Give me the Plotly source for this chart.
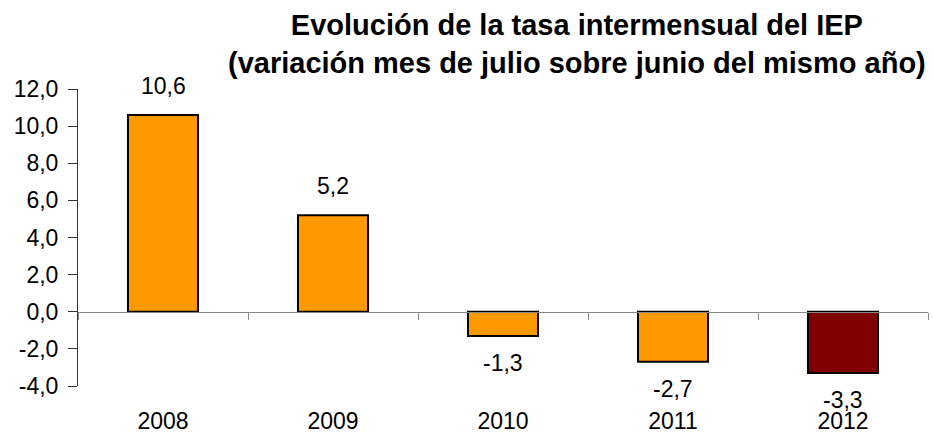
import plotly.graph_objects as go

years = ["2008", "2009", "2010", "2011", "2012"]
values = [10.6, 5.2, -1.3, -2.7, -3.3]
bar_colors = ["#FF9900", "#FF9900", "#FF9900", "#FF9900", "#800000"]
y_ticks = [-4, -2, 0, 2, 4, 6, 8, 10, 12]
y_min, y_max = -4, 12

FONT = "Liberation Sans, Arial, sans-serif"
FS = 23


def fmt(v):
    return f"{v:.1f}".replace(".", ",")


fig = go.Figure()
fig.add_trace(go.Bar(
    x=years, y=values,
    marker=dict(color=bar_colors, line=dict(color="black", width=2)),
    hoverinfo="skip", showlegend=False,
))
# helper trace so the zero-line category axis exists
fig.add_trace(go.Scatter(x=years, y=[None] * len(years), xaxis="x2",
                         mode="lines", showlegend=False, hoverinfo="skip"))

for i, v in enumerate(values):
    fig.add_annotation(
        x=i, y=v, xref="x", yref="y", text=fmt(v), showarrow=False,
        yanchor="bottom" if v >= 0 else "top",
        yshift=14 if v >= 0 else -12,
        font=dict(family=FONT, size=FS, color="black"),
    )

fig.add_annotation(
    text="<b>Evolución de la tasa intermensual del IEP<br>(variación mes de julio sobre junio del mismo año)</b>",
    xref="paper", yref="paper", x=(577 - 78) / 850, y=1 + (89 - 7) / 297,
    xanchor="center", yanchor="top", showarrow=False,
    font=dict(family=FONT, size=29, color="black"),
)

zero_pos = (0 - y_min) / (y_max - y_min)
cat_range = [-0.5, len(years) - 0.5]

fig.update_layout(
    width=933, height=432,
    margin=dict(l=78, r=5, t=89, b=46),
    paper_bgcolor="white", plot_bgcolor="white",
    bargap=0.588,
    font=dict(family=FONT, size=FS, color="black"),
    xaxis=dict(
        type="category", categoryorder="array", categoryarray=years,
        range=cat_range, automargin=False,
        showline=False, showgrid=False, zeroline=False,
        ticks="", ticklabelstandoff=19,
        tickfont=dict(family=FONT, size=FS, color="black"),
    ),
    xaxis2=dict(
        type="category", categoryorder="array", categoryarray=years,
        range=cat_range, automargin=False,
        overlaying="x", anchor="free", position=zero_pos,
        showline=True, linecolor="#888888", linewidth=1,
        ticks="outside", tickson="boundaries", ticklen=7, tickcolor="#888888",
        showticklabels=False, showgrid=False, zeroline=False,
    ),
    yaxis=dict(
        range=[y_min, y_max], tickvals=y_ticks, ticktext=[fmt(t) for t in y_ticks],
        automargin=False,
        showline=True, linecolor="#333333", linewidth=1,
        ticks="outside", ticklen=9, tickcolor="#333333", ticklabelstandoff=5,
        showgrid=False, zeroline=False,
        tickfont=dict(family=FONT, size=FS, color="black"),
    ),
)

fig.write_html("out.html", config={"displayModeBar": False},
               post_script="document.body.style.margin='0';")
